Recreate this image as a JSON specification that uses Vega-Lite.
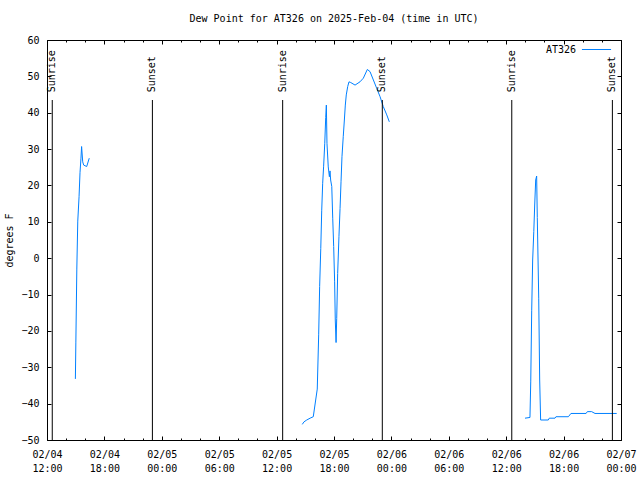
{
  "$schema": "https://vega.github.io/schema/vega-lite/v6.json",
  "width": 574,
  "height": 400,
  "autosize": {"type": "none"},
  "padding": {"left": 47, "top": 40, "right": 19, "bottom": 40},
  "background": "white",
  "title": {"text": "Dew Point for AT326 on 2025-Feb-04 (time in UTC)", "font": "DejaVu Sans Mono", "fontSize": 10, "fontWeight": "normal", "color": "black", "baseline": "bottom", "offset": 0, "anchor": "middle", "frame": "group"},
  "config": {
    "view": {"stroke": "black", "strokeWidth": 1},
    "axis": {"labelFont": "DejaVu Sans Mono", "labelFontSize": 10, "labelColor": "black", "titleFont": "DejaVu Sans Mono", "titleFontSize": 10, "titleFontWeight": "normal", "titleColor": "black", "domain": false, "grid": false, "tickColor": "black", "tickWidth": 1}
  },
  "datasets": {
    "dew": [
      {"t": "2025-02-04T14:58:00Z", "v": -33.2, "seg": 1, "station": "AT326"},
      {"t": "2025-02-04T15:01:00Z", "v": -23.3, "seg": 1, "station": "AT326"},
      {"t": "2025-02-04T15:07:00Z", "v": -3.0, "seg": 1, "station": "AT326"},
      {"t": "2025-02-04T15:13:00Z", "v": 10.2, "seg": 1, "station": "AT326"},
      {"t": "2025-02-04T15:21:00Z", "v": 16.9, "seg": 1, "station": "AT326"},
      {"t": "2025-02-04T15:27:00Z", "v": 23.5, "seg": 1, "station": "AT326"},
      {"t": "2025-02-04T15:33:00Z", "v": 27.5, "seg": 1, "station": "AT326"},
      {"t": "2025-02-04T15:37:00Z", "v": 30.7, "seg": 1, "station": "AT326"},
      {"t": "2025-02-04T15:44:00Z", "v": 26.5, "seg": 1, "station": "AT326"},
      {"t": "2025-02-04T15:50:00Z", "v": 25.6, "seg": 1, "station": "AT326"},
      {"t": "2025-02-04T16:09:00Z", "v": 25.2, "seg": 1, "station": "AT326"},
      {"t": "2025-02-04T16:25:00Z", "v": 27.5, "seg": 1, "station": "AT326"},
      {"t": "2025-02-05T14:41:00Z", "v": -45.7, "seg": 2, "station": "AT326"},
      {"t": "2025-02-05T14:52:00Z", "v": -45.0, "seg": 2, "station": "AT326"},
      {"t": "2025-02-05T15:09:00Z", "v": -44.5, "seg": 2, "station": "AT326"},
      {"t": "2025-02-05T15:30:00Z", "v": -44.0, "seg": 2, "station": "AT326"},
      {"t": "2025-02-05T15:50:00Z", "v": -43.6, "seg": 2, "station": "AT326"},
      {"t": "2025-02-05T16:15:00Z", "v": -36.0, "seg": 2, "station": "AT326"},
      {"t": "2025-02-05T16:24:00Z", "v": -20.9, "seg": 2, "station": "AT326"},
      {"t": "2025-02-05T16:30:00Z", "v": -7.8, "seg": 2, "station": "AT326"},
      {"t": "2025-02-05T16:37:00Z", "v": 2.7, "seg": 2, "station": "AT326"},
      {"t": "2025-02-05T16:43:00Z", "v": 13.2, "seg": 2, "station": "AT326"},
      {"t": "2025-02-05T16:49:00Z", "v": 20.6, "seg": 2, "station": "AT326"},
      {"t": "2025-02-05T16:55:00Z", "v": 25.3, "seg": 2, "station": "AT326"},
      {"t": "2025-02-05T17:02:00Z", "v": 31.6, "seg": 2, "station": "AT326"},
      {"t": "2025-02-05T17:08:00Z", "v": 38.7, "seg": 2, "station": "AT326"},
      {"t": "2025-02-05T17:12:00Z", "v": 42.1, "seg": 2, "station": "AT326"},
      {"t": "2025-02-05T17:16:00Z", "v": 31.6, "seg": 2, "station": "AT326"},
      {"t": "2025-02-05T17:24:00Z", "v": 25.1, "seg": 2, "station": "AT326"},
      {"t": "2025-02-05T17:31:00Z", "v": 22.4, "seg": 2, "station": "AT326"},
      {"t": "2025-02-05T17:35:00Z", "v": 24.0, "seg": 2, "station": "AT326"},
      {"t": "2025-02-05T17:39:00Z", "v": 21.5, "seg": 2, "station": "AT326"},
      {"t": "2025-02-05T17:46:00Z", "v": 19.7, "seg": 2, "station": "AT326"},
      {"t": "2025-02-05T17:52:00Z", "v": 11.0, "seg": 2, "station": "AT326"},
      {"t": "2025-02-05T17:58:00Z", "v": 3.2, "seg": 2, "station": "AT326"},
      {"t": "2025-02-05T18:04:00Z", "v": -6.5, "seg": 2, "station": "AT326"},
      {"t": "2025-02-05T18:08:00Z", "v": -17.0, "seg": 2, "station": "AT326"},
      {"t": "2025-02-05T18:13:00Z", "v": -23.2, "seg": 2, "station": "AT326"},
      {"t": "2025-02-05T18:17:00Z", "v": -16.6, "seg": 2, "station": "AT326"},
      {"t": "2025-02-05T18:23:00Z", "v": -4.2, "seg": 2, "station": "AT326"},
      {"t": "2025-02-05T18:31:00Z", "v": 5.9, "seg": 2, "station": "AT326"},
      {"t": "2025-02-05T18:38:00Z", "v": 13.7, "seg": 2, "station": "AT326"},
      {"t": "2025-02-05T18:44:00Z", "v": 21.0, "seg": 2, "station": "AT326"},
      {"t": "2025-02-05T18:50:00Z", "v": 27.9, "seg": 2, "station": "AT326"},
      {"t": "2025-02-05T18:58:00Z", "v": 33.4, "seg": 2, "station": "AT326"},
      {"t": "2025-02-05T19:05:00Z", "v": 38.0, "seg": 2, "station": "AT326"},
      {"t": "2025-02-05T19:11:00Z", "v": 42.1, "seg": 2, "station": "AT326"},
      {"t": "2025-02-05T19:17:00Z", "v": 44.9, "seg": 2, "station": "AT326"},
      {"t": "2025-02-05T19:26:00Z", "v": 47.2, "seg": 2, "station": "AT326"},
      {"t": "2025-02-05T19:34:00Z", "v": 48.5, "seg": 2, "station": "AT326"},
      {"t": "2025-02-05T19:45:00Z", "v": 48.3, "seg": 2, "station": "AT326"},
      {"t": "2025-02-05T20:12:00Z", "v": 47.6, "seg": 2, "station": "AT326"},
      {"t": "2025-02-05T20:43:00Z", "v": 48.5, "seg": 2, "station": "AT326"},
      {"t": "2025-02-05T21:04:00Z", "v": 49.5, "seg": 2, "station": "AT326"},
      {"t": "2025-02-05T21:29:00Z", "v": 51.9, "seg": 2, "station": "AT326"},
      {"t": "2025-02-05T21:46:00Z", "v": 51.3, "seg": 2, "station": "AT326"},
      {"t": "2025-02-05T22:07:00Z", "v": 49.0, "seg": 2, "station": "AT326"},
      {"t": "2025-02-05T22:28:00Z", "v": 46.7, "seg": 2, "station": "AT326"},
      {"t": "2025-02-05T22:49:00Z", "v": 44.4, "seg": 2, "station": "AT326"},
      {"t": "2025-02-05T23:09:00Z", "v": 41.7, "seg": 2, "station": "AT326"},
      {"t": "2025-02-05T23:31:00Z", "v": 39.4, "seg": 2, "station": "AT326"},
      {"t": "2025-02-05T23:47:00Z", "v": 37.5, "seg": 2, "station": "AT326"},
      {"t": "2025-02-06T13:58:00Z", "v": -44.0, "seg": 3, "station": "AT326"},
      {"t": "2025-02-06T14:29:00Z", "v": -43.8, "seg": 3, "station": "AT326"},
      {"t": "2025-02-06T14:34:00Z", "v": -33.8, "seg": 3, "station": "AT326"},
      {"t": "2025-02-06T14:40:00Z", "v": -14.3, "seg": 3, "station": "AT326"},
      {"t": "2025-02-06T14:46:00Z", "v": -0.5, "seg": 3, "station": "AT326"},
      {"t": "2025-02-06T14:53:00Z", "v": 7.3, "seg": 3, "station": "AT326"},
      {"t": "2025-02-06T14:59:00Z", "v": 14.9, "seg": 3, "station": "AT326"},
      {"t": "2025-02-06T15:05:00Z", "v": 21.5, "seg": 3, "station": "AT326"},
      {"t": "2025-02-06T15:11:00Z", "v": 22.6, "seg": 3, "station": "AT326"},
      {"t": "2025-02-06T15:15:00Z", "v": 11.2, "seg": 3, "station": "AT326"},
      {"t": "2025-02-06T15:24:00Z", "v": -11.0, "seg": 3, "station": "AT326"},
      {"t": "2025-02-06T15:30:00Z", "v": -33.5, "seg": 3, "station": "AT326"},
      {"t": "2025-02-06T15:36:00Z", "v": -44.5, "seg": 3, "station": "AT326"},
      {"t": "2025-02-06T16:24:00Z", "v": -44.5, "seg": 3, "station": "AT326"},
      {"t": "2025-02-06T16:30:00Z", "v": -44.0, "seg": 3, "station": "AT326"},
      {"t": "2025-02-06T17:06:00Z", "v": -44.0, "seg": 3, "station": "AT326"},
      {"t": "2025-02-06T17:12:00Z", "v": -43.6, "seg": 3, "station": "AT326"},
      {"t": "2025-02-06T18:30:00Z", "v": -43.6, "seg": 3, "station": "AT326"},
      {"t": "2025-02-06T18:46:00Z", "v": -42.7, "seg": 3, "station": "AT326"},
      {"t": "2025-02-06T20:21:00Z", "v": -42.7, "seg": 3, "station": "AT326"},
      {"t": "2025-02-06T20:29:00Z", "v": -42.2, "seg": 3, "station": "AT326"},
      {"t": "2025-02-06T20:56:00Z", "v": -42.2, "seg": 3, "station": "AT326"},
      {"t": "2025-02-06T21:17:00Z", "v": -42.7, "seg": 3, "station": "AT326"},
      {"t": "2025-02-06T23:33:00Z", "v": -42.7, "seg": 3, "station": "AT326"}
    ],
    "sun": [
      {"t": "2025-02-04T12:33:00Z", "event": "Sunrise"},
      {"t": "2025-02-04T23:01:00Z", "event": "Sunset"},
      {"t": "2025-02-05T12:38:00Z", "event": "Sunrise"},
      {"t": "2025-02-05T23:03:00Z", "event": "Sunset"},
      {"t": "2025-02-06T12:35:00Z", "event": "Sunrise"},
      {"t": "2025-02-06T23:06:00Z", "event": "Sunset"}
    ]
  },
  "layer": [
    {
      "data": {"name": "dew"},
      "mark": {"type": "line", "strokeWidth": 1},
      "encoding": {
        "x": {"field": "t", "type": "temporal",
          "scale": {"type": "utc", "domain": [1738670400000, 1738886400000]},
          "axis": {"orient": "bottom", "title": null, "values": [1738670400000, 1738692000000, 1738713600000, 1738735200000, 1738756800000, 1738778400000, 1738800000000, 1738821600000, 1738843200000, 1738864800000, 1738886400000], "tickSize": -4, "labelExpr": "[utcFormat(datum.value, '%m/%d'), utcFormat(datum.value, '%H:%M')]", "labelOverlap": false, "labelFlush": false, "labelPadding": 13, "labelLineHeight": 14, "labelBaseline": "top"}},
        "y": {"field": "v", "type": "quantitative",
          "scale": {"domain": [-50, 60], "nice": false, "zero": false},
          "axis": {"title": "degrees F", "values": [-50, -40, -30, -20, -10, 0, 10, 20, 30, 40, 50, 60], "tickSize": -4, "labelPadding": 12, "titlePadding": 6}},
        "color": {"field": "station", "type": "nominal", "scale": {"range": ["#0080ff"]},
          "legend": {"orient": "none", "legendX": 534, "legendY": -6, "title": null, "symbolType": "stroke", "symbolSize": 850, "symbolStrokeWidth": 1, "labelOffset": -36, "labelAlign": "right", "labelFont": "DejaVu Sans Mono", "labelFontSize": 10, "labelColor": "black", "padding": 0}},
        "detail": {"field": "seg"}
      }
    },
    {
      "data": {"name": "sun"},
      "mark": {"type": "rule", "color": "black", "strokeWidth": 1},
      "encoding": {
        "x": {"field": "t", "type": "temporal", "scale": {"type": "utc", "domain": [1738670400000, 1738886400000]},
          "axis": {"orient": "top", "title": null, "labels": false, "values": [1738670400000, 1738692000000, 1738713600000, 1738735200000, 1738756800000, 1738778400000, 1738800000000, 1738821600000, 1738843200000, 1738864800000, 1738886400000], "tickSize": -4}},
        "y": {"datum": 43.5, "type": "quantitative",
          "axis": {"orient": "right", "title": null, "labels": false, "values": [-50, -40, -30, -20, -10, 0, 10, 20, 30, 40, 50, 60], "tickSize": -4}},
        "y2": {"datum": -50}
      }
    },
    {
      "data": {"name": "sun"},
      "transform": [{"filter": "datum.event === 'Sunrise'"}],
      "mark": {"type": "text", "angle": 270, "align": "left", "baseline": "middle", "font": "DejaVu Sans Mono", "fontSize": 10, "color": "black"},
      "encoding": {
        "x": {"field": "t", "type": "temporal", "scale": {"type": "utc", "domain": [1738670400000, 1738886400000]},
          "axis": {"orient": "bottom", "title": null, "labels": false, "values": [1738670400000, 1738677600000, 1738684800000, 1738692000000, 1738699200000, 1738706400000, 1738713600000, 1738720800000, 1738728000000, 1738735200000, 1738742400000, 1738749600000, 1738756800000, 1738764000000, 1738771200000, 1738778400000, 1738785600000, 1738792800000, 1738800000000, 1738807200000, 1738814400000, 1738821600000, 1738828800000, 1738836000000, 1738843200000, 1738850400000, 1738857600000, 1738864800000, 1738872000000, 1738879200000, 1738886400000], "tickSize": -2}},
        "y": {"datum": 45.6, "type": "quantitative", "axis": null},
        "text": {"field": "event"}
      }
    },
    {
      "data": {"name": "sun"},
      "transform": [{"filter": "datum.event === 'Sunset'"}],
      "mark": {"type": "text", "angle": 270, "align": "left", "baseline": "middle", "font": "DejaVu Sans Mono", "fontSize": 10, "color": "black"},
      "encoding": {
        "x": {"field": "t", "type": "temporal", "scale": {"type": "utc", "domain": [1738670400000, 1738886400000]},
          "axis": {"orient": "top", "title": null, "labels": false, "values": [1738670400000, 1738677600000, 1738684800000, 1738692000000, 1738699200000, 1738706400000, 1738713600000, 1738720800000, 1738728000000, 1738735200000, 1738742400000, 1738749600000, 1738756800000, 1738764000000, 1738771200000, 1738778400000, 1738785600000, 1738792800000, 1738800000000, 1738807200000, 1738814400000, 1738821600000, 1738828800000, 1738836000000, 1738843200000, 1738850400000, 1738857600000, 1738864800000, 1738872000000, 1738879200000, 1738886400000], "tickSize": -2}},
        "y": {"datum": 45.6, "type": "quantitative", "axis": null},
        "text": {"field": "event"}
      }
    }
  ],
  "resolve": {"axis": {"x": "independent", "y": "independent"}}
}
